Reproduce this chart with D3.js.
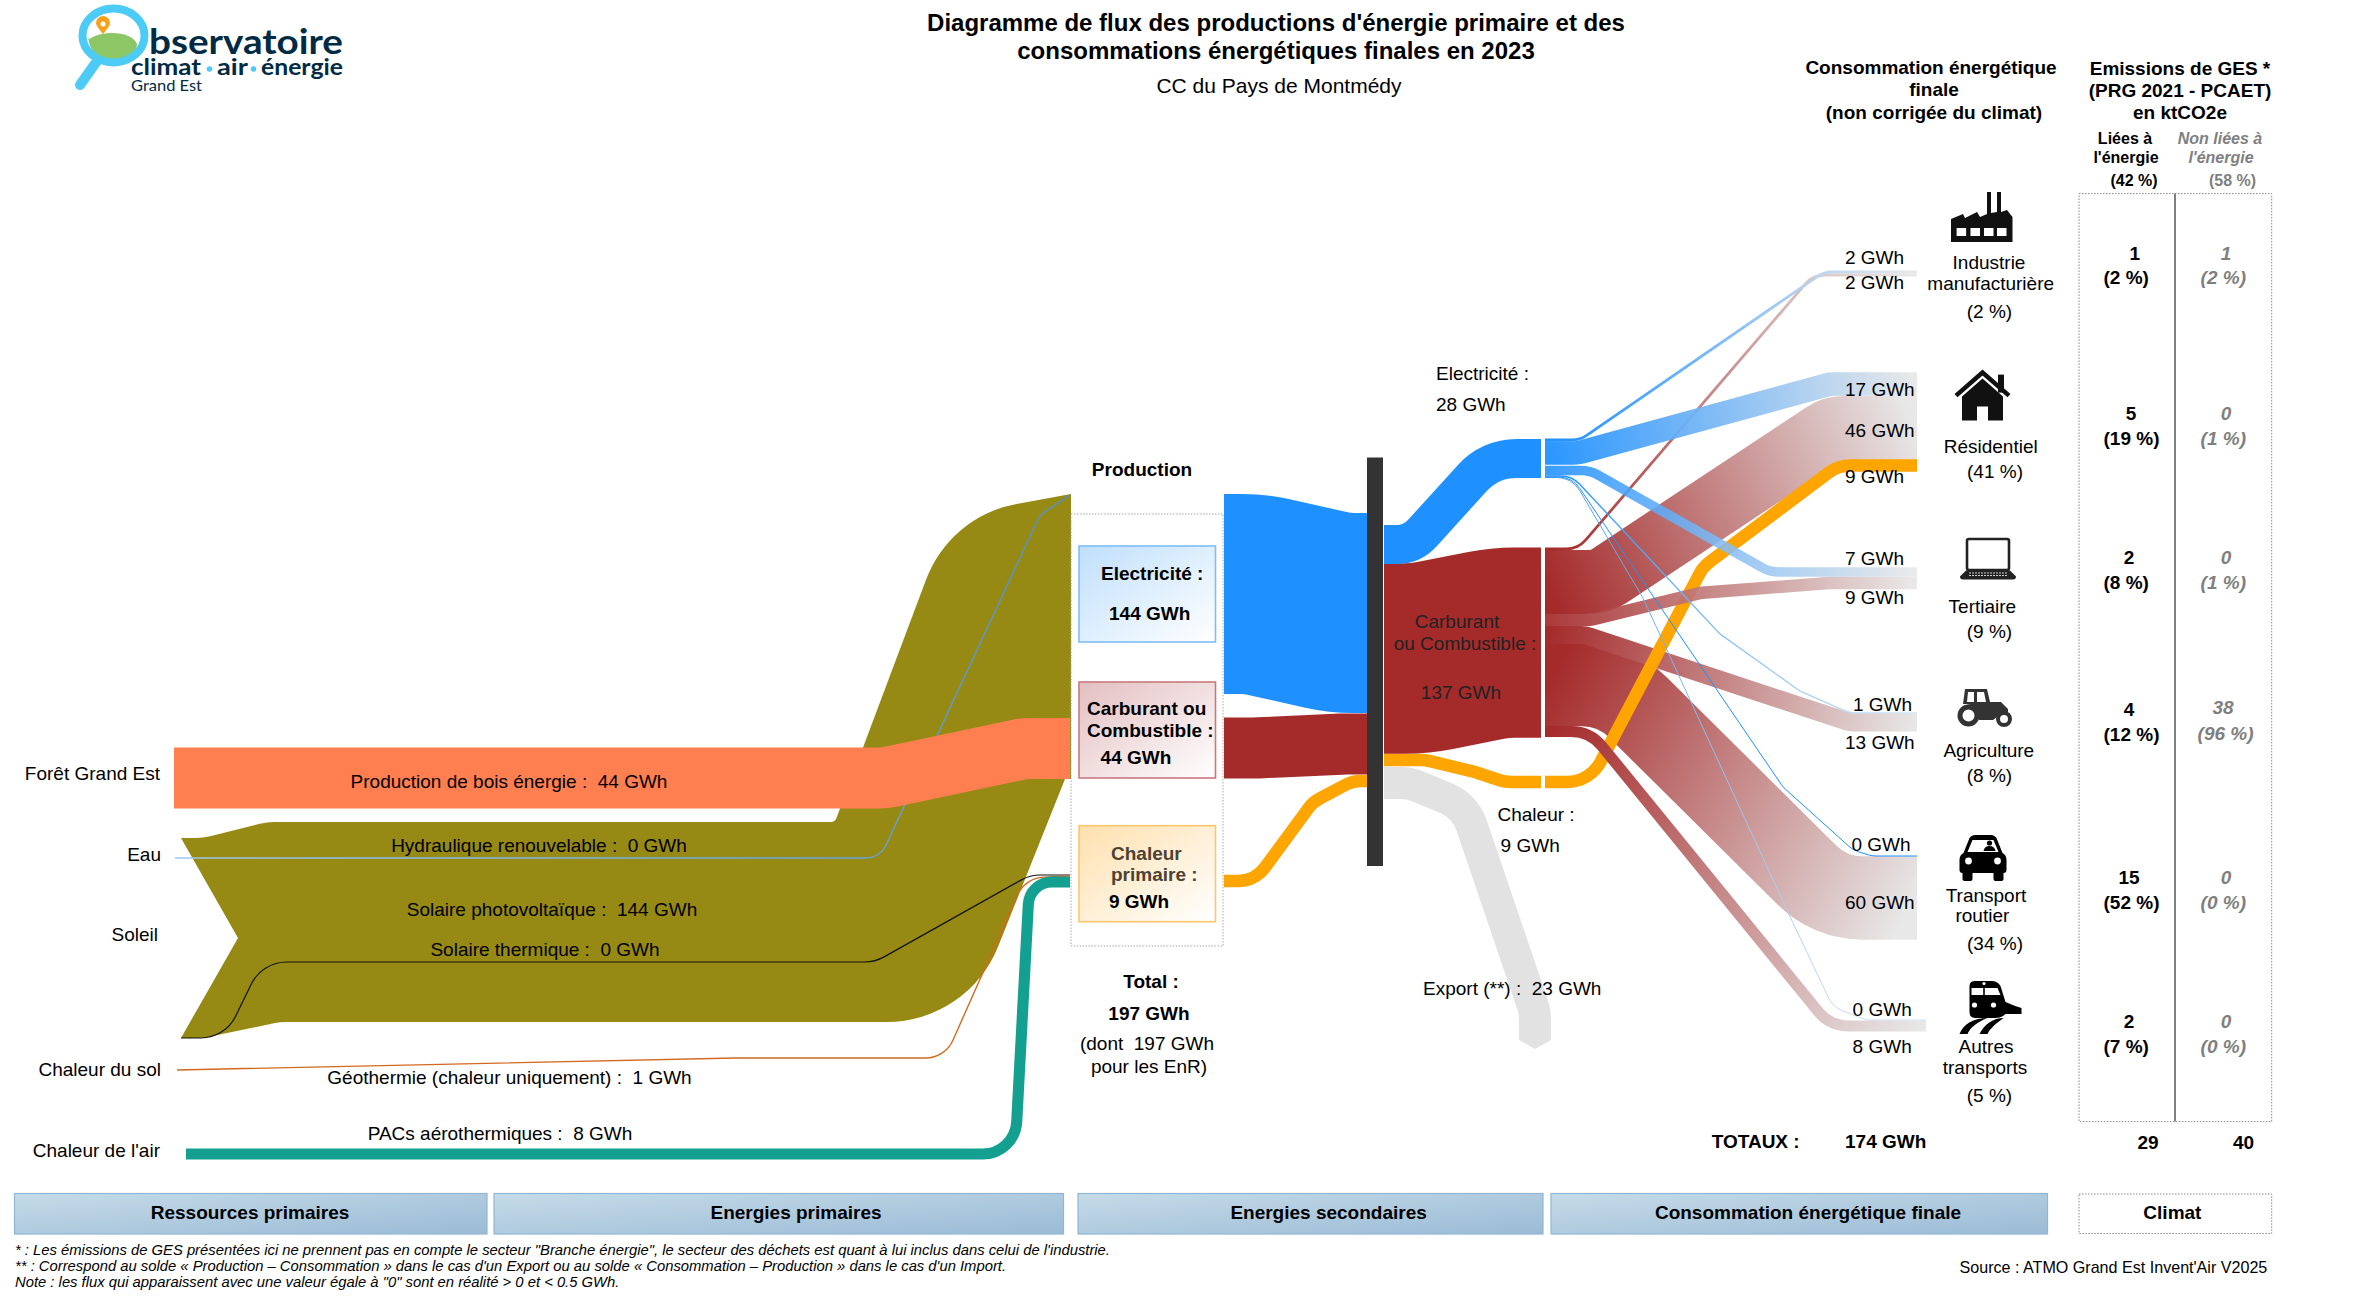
<!DOCTYPE html>
<html lang="fr"><head><meta charset="utf-8"><title>Diagramme de flux</title>
<script src="https://cdn.jsdelivr.net/npm/d3@7"></script>
<style>html,body{margin:0;padding:0;background:#fff}svg{display:block}text{font-family:"Liberation Sans",Arial,sans-serif;fill:#000}</style>
</head><body><svg id="c" width="2370" height="1299"></svg>
<script>
// ---------- DATA (GWh; labels "0" are small values > 0 and < 0.5) ----------
const resourceNames = ["Forêt Grand Est","Eau","Soleil","Chaleur du sol","Chaleur de l'air"];
const primaryFlowNames = ["Production de bois énergie","Hydraulique renouvelable","Solaire photovoltaïque","Solaire thermique","Géothermie (chaleur uniquement)","PACs aérothermiques"];
const primaryFlowValues = [44,0.3,144,0.3,1,8];
const productionNames = ["Electricité","Carburant ou Combustible","Chaleur primaire"];
const productionValues = [144,44,9];
const totalProduction = 197;
const carrierNames = ["Electricité","Carburant ou Combustible","Chaleur"];
const carrierValues = [28,137,9];
const exportValue = 23;
const sectorNames = ["Industrie manufacturière","Résidentiel","Tertiaire","Agriculture","Transport routier","Autres transports"];
const electricityBySector = [2,17,7,1,0.3,0.3];
const fuelBySector = [2,46,9,13,60,8];
const heatToResidential = 9;
const sectorShare = [2,41,9,8,34,5];
const ghgEnergy = [1,5,2,4,15,2];
const ghgEnergyShare = [2,19,8,12,52,7];
const ghgOther = [1,0,0,38,0,0];
const ghgOtherShare = [2,1,1,96,0,0];
const totalFinal = 174, totalGhgEnergy = 29, totalGhgOther = 40, shareEnergy = 42, shareOther = 58;

// ---------- SCALES / HELPERS ----------
const thick = d3.scaleLinear().domain([0,144]).range([0,200]);
const wid = v => Math.max(1, thick(v));
const num = d3.format(".0f");
const gwh = v => num(v) + " GWh";
const svg = d3.select("#c");
const defs = svg.append("defs");

function rounded(pts, r=30, closed=false){
  const p = d3.path(), n = pts.length;
  p.moveTo(pts[0][0], pts[0][1]);
  for(let i=1;i<n-1;i++){
    const [ax,ay]=pts[i-1],[bx,by,br]=pts[i],[cx,cy]=pts[i+1];
    let R = br===undefined ? r : br;
    const l1=Math.hypot(bx-ax,by-ay), l2=Math.hypot(cx-bx,cy-by);
    const a1=Math.atan2(by-ay,bx-ax), a2=Math.atan2(cy-by,cx-bx);
    let th=Math.abs(a2-a1); if(th>Math.PI) th=2*Math.PI-th;
    const t=Math.tan(th/2);
    if(t>1e-4 && R*t>Math.min(l1,l2)*0.55) R=Math.min(l1,l2)*0.55/t;
    if(R>0 && t>1e-4) p.arcTo(bx,by,cx,cy,R); else p.lineTo(bx,by);
  }
  p.lineTo(pts[n-1][0],pts[n-1][1]);
  if(closed) p.closePath();
  return p.toString();
}
let gid=0;
function fade(route, from, to){
  const id="g"+(gid++), a=route[0], b=route[route.length-1];
  const g=defs.append("linearGradient").attr("id",id).attr("gradientUnits","userSpaceOnUse")
    .attr("x1",a[0]).attr("y1",a[1]).attr("x2",b[0]).attr("y2",b[1]);
  g.append("stop").attr("offset",0).attr("stop-color",from);
  g.append("stop").attr("offset",1).attr("stop-color",to);
  return `url(#${id})`;
}
function diag(id,from,to){
  const g=defs.append("linearGradient").attr("id",id).attr("x1",0).attr("y1",0).attr("x2",1).attr("y2",1);
  g.append("stop").attr("offset",0).attr("stop-color",from);
  g.append("stop").attr("offset",1).attr("stop-color",to);
}
function band(route, value, color, r=30, opacity=1, minW=1){
  return svg.append("path").attr("d",rounded(route,r)).attr("fill","none").attr("stroke",color)
    .attr("stroke-width",Math.max(minW,thick(value))).attr("stroke-opacity",opacity).attr("stroke-linecap","butt");
}
function T(x,y,s,o={}){
  return svg.append("text").attr("x",x).attr("y",y).text(s).attr("xml:space","preserve")
    .attr("text-anchor",o.a||"start").attr("font-size",o.s||19).attr("font-weight",o.b?"bold":"normal")
    .attr("font-style",o.i?"italic":"normal").style("fill",o.c||"#000").style("white-space","pre");
}

// ---------- LAYOUT: flow routes (shapes only, widths come from the values) ----------
const BLUE="#1e90ff", RED="#a52a2a", ORANGE="#ffa500", FADE="#e8e8e8", OLIVE="#968a14", CORAL="#ff7f50", TEAL="#13a090", GREY="#e2e2e2";
const sectorRoutesElec = [
  [[1545,440],[1580,440],[1824,272],[1917,272]],
  [[1545,453],[1578,453],[1830,384],[1917,384]],
  [[1545,470.5],[1590,470.5],[1770,572],[1917,572]],
  [[1545,476],[1572,476],[1720,634],[1800,691],[1850,713],[1917,713]],
  [[1545,477],[1572,477],[1783,787],[1853,850],[1872,856],[1917,856]],
  [[1545,477.5],[1572,477.5],[1643,598],[1793,923],[1833,1007],[1866,1020],[1926,1020]]
];
const sectorRoutesFuel = [
  [[1545,549],[1578,549],[1813,275],[1917,275]],
  [[1545,582],[1600,582],[1833,428],[1917,428]],
  [[1545,620],[1590,620],[1700,593],[1830,583],[1917,583]],
  [[1545,635],[1585,635],[1850,722.5],[1917,722.5]],
  [[1545,684.6],[1615,684.6],[1830,898],[1917,898]],
  [[1545,731.5],[1590,731.5],[1830,1026],[1926,1026]]
];
const routeElecOut=[[1384,544.5],[1412,544.5],[1490,458.5],[1541,458.5]];
const routeFuelOut=[[1384,658.5],[1420,658.5],[1500,642.6],[1541,642.6]];
const routeHeatOut=[[1384,760],[1425,760],[1475,772],[1505,782],[1541,782]];
const routeHeatRes=[[1545,782],[1590,782],[1703,567],[1838,465.6],[1917,465.6]];
const routeExport=[[1384,783],[1410,783],[1465,806],[1535,1012],[1535,1040]];
const routeProdElec=[[1224,594],[1255,594],[1340,613],[1367,613]];
const routeProdFuel=[[1224,748],[1256,748],[1344,744],[1367,744]];
const routeProdHeat=[[1224,881],[1255,881],[1313,802],[1353,781],[1367,781]];
const routeWood=[[174,778],[885,778],[1024,748.5],[1070,748.5]];
const routeHydro=[[175,858],[880,858],[1040,515],[1070,495]];
const routeThermal=[[181,1038],[225,1038],[262,962],[875,962],[1030,875],[1070,875]];
const routeGeo=[[177,1070],[736,1058],[945,1058],[1025,878],[1070,876]];
const routePac=[[186,1154],[1015,1154],[1029.5,882],[1070,882]];

// ---------- PRIMARY RESOURCES ----------
const pvH=thick(primaryFlowValues[2]);
svg.append("path").attr("fill",OLIVE).attr("d",rounded([
  [181,838,0],[203,838,60],[267,822,60],[835,822,6],[950,516,170],[1071,494,0],[1071,494+pvH,0],[1071,779,0],[1065,779,0],
  [968,822+pvH,120],[280,822+pvH,60],[203,838+pvH,60],[181,838+pvH,0],[238,938,0],[181,838]
],0,true));
band(routeHydro,primaryFlowValues[1],fade(routeHydro,"#9cc8f0","#4a90d9"),22,1,1.3);
band(routeThermal,primaryFlowValues[3],"#111",40,1,1.2);
band(routeGeo,primaryFlowValues[4],"#d2691e",30);
band(routePac,primaryFlowValues[5],TEAL,34);
band(routeWood,primaryFlowValues[0],CORAL,60);

// primary panel
svg.append("rect").attr("x",1071).attr("y",514).attr("width",152).attr("height",432)
  .attr("fill","#fff").attr("stroke","#aaa").attr("stroke-dasharray","1.5 1.5");
[["bEl","#bfdffc","#7fbdf7",546],["bCa","#e3bfc1","#c77a7e",682],["bHe","#ffe0ae","#fcc76a",825.7]].forEach(([id,c,s,y])=>{
  diag(id,c,"#fff");
  svg.append("rect").attr("x",1079).attr("y",y).attr("width",136.5).attr("height",96)
    .attr("fill",`url(#${id})`).attr("stroke",s).attr("stroke-width",1.6);
});

// ---------- PRODUCTION -> BAR -> CARRIERS ----------
band(routeProdElec,productionValues[0],BLUE,120);
band(routeProdFuel,productionValues[1],RED,120);
band(routeProdHeat,productionValues[2],ORANGE,34);
band(routeExport,exportValue,GREY,45);
const [ex,ey]=routeExport[routeExport.length-1], eh=wid(exportValue)/2;
svg.append("path").attr("fill",GREY).attr("d",d3.line()([[ex-eh,ey-0.5],[ex+eh,ey-0.5],[ex+eh,ey],[ex,ey+9],[ex-eh,ey]])+"Z");
band(routeHeatOut,carrierValues[2],ORANGE,34);
band(routeFuelOut,carrierValues[1],RED,150);
band(routeElecOut,carrierValues[0],BLUE,60);
svg.append("rect").attr("x",1367).attr("y",457.5).attr("width",16).attr("height",408.5).attr("fill","#333");

// ---------- DISTRIBUTION TO SECTORS ----------
const fuelPaint=i=>fade(sectorRoutesFuel[i],RED,FADE), elecPaint=i=>fade(sectorRoutesElec[i],BLUE,FADE);
band(sectorRoutesFuel[1],fuelBySector[1],fuelPaint(1),36);
band(sectorRoutesFuel[4],fuelBySector[4],fuelPaint(4),80);
band(sectorRoutesFuel[3],fuelBySector[3],fuelPaint(3),26);
band(routeHeatRes,heatToResidential,ORANGE,38);
band(sectorRoutesFuel[2],fuelBySector[2],fuelPaint(2),30,0.93);
band(sectorRoutesFuel[5],fuelBySector[5],fuelPaint(5),40);
band(sectorRoutesFuel[0],fuelBySector[0],fuelPaint(0),26);
band(sectorRoutesElec[5],electricityBySector[5],fade(sectorRoutesElec[5],"#4d9fee","#cfe0f2"),26);
band(sectorRoutesElec[4],electricityBySector[4],BLUE,26);
band(sectorRoutesElec[3],electricityBySector[3],fade(sectorRoutesElec[3],BLUE,"#d5e3f0"),26);
band(sectorRoutesElec[2],electricityBySector[2],elecPaint(2),34,0.88);
band(sectorRoutesElec[1],electricityBySector[1],elecPaint(1),30,0.95);
band(sectorRoutesElec[0],electricityBySector[0],elecPaint(0),26);

// ---------- TEXT: titles ----------
T(1276,31,"Diagramme de flux des productions d'énergie primaire et des",{a:"middle",b:1,s:24});
T(1276,59,"consommations énergétiques finales en 2023",{a:"middle",b:1,s:24});
T(1279,93,"CC du Pays de Montmédy",{a:"middle",s:21});
T(1931,74,"Consommation énergétique",{a:"middle",b:1});
T(1934,96,"finale",{a:"middle",b:1});
T(1934,118.6,"(non corrigée du climat)",{a:"middle",b:1});
T(2180,75,"Emissions de GES *",{a:"middle",b:1});
T(2180,97,"(PRG 2021 - PCAET)",{a:"middle",b:1});
T(2180,118.6,"en ktCO2e",{a:"middle",b:1});
T(2125,143.6,"Liées à",{a:"middle",b:1,s:16});
T(2126,162.5,"l'énergie",{a:"middle",b:1,s:16});
T(2134,185.7,`(${shareEnergy} %)`,{a:"middle",b:1,s:16});
const G2="#7f7f7f";
T(2220,143.6,"Non liées à",{a:"middle",b:1,i:1,s:16,c:G2});
T(2221,162.5,"l'énergie",{a:"middle",b:1,i:1,s:16,c:G2});
T(2232.6,185.7,`(${shareOther} %)`,{a:"middle",b:1,s:16,c:G2});

// left labels
[[160,780],[161,860.5],[158,940.7],[161,1076.4],[160,1156.6]].forEach(([x,y],i)=>T(x,y,resourceNames[i],{a:"end"}));
[[509,788],[539,851.7],[552,916],[545,956],[509.5,1084],[500,1140]].forEach(([x,y],i)=>{
  T(x,y,`${primaryFlowNames[i]} :  ${gwh(primaryFlowValues[i])}`,{a:"middle"});
});

// production panel text
T(1142,476,"Production",{a:"middle",b:1});
T(1101,580,productionNames[0]+" :",{b:1});
T(1109,620,gwh(productionValues[0]),{b:1});
T(1087,714.7,"Carburant ou",{b:1});
T(1087,737,"Combustible :",{b:1});
T(1100.6,763.7,gwh(productionValues[1]),{b:1});
T(1111,860,"Chaleur",{b:1,c:"#4d4232"});
T(1111,881,"primaire :",{b:1,c:"#4d4232"});
T(1109,908,gwh(productionValues[2]),{b:1});
T(1151,988,"Total :",{a:"middle",b:1});
T(1149,1020,gwh(totalProduction),{a:"middle",b:1});
T(1147,1050,`(dont  ${gwh(totalProduction)}`,{a:"middle"});
T(1149,1073,"pour les EnR)",{a:"middle"});

// carriers
T(1436,380,carrierNames[0]+" :");
T(1436,411,gwh(carrierValues[0]));
T(1457,628,"Carburant",{a:"middle",c:"#222"});
T(1465,649.6,"ou Combustible :",{a:"middle",c:"#222"});
T(1461,699.4,gwh(carrierValues[1]),{a:"middle",c:"#222"});
T(1497.5,821,carrierNames[2]+" :");
T(1500.6,851.7,gwh(carrierValues[2]));
T(1423,995,`Export (**) :  ${gwh(exportValue)}`);

// sector flow labels
const elecLabel=[[1845,264],[1845,396],[1845,565],[1853,710.6],[1851.5,851.4],[1852.6,1015.5]];
const fuelLabel=[[1845,289],[1845,437],[1845,604],[1845,748.5],[1845,908.5],[1852.6,1052.5]];
sectorNames.forEach((_,i)=>{
  T(elecLabel[i][0],elecLabel[i][1],gwh(electricityBySector[i]));
  T(fuelLabel[i][0],fuelLabel[i][1],gwh(fuelBySector[i]));
});
T(1845,483,gwh(heatToResidential));
T(1711.7,1148,"TOTAUX :",{b:1});
T(1845,1148,gwh(totalFinal),{b:1});

// sector names
const sectorLines=[
 [[1989,268.6,"Industrie"],[1990.7,290,"manufacturière"],[1989.5,317.9]],
 [[1990.7,452.5,"Résidentiel"],[1995,477.5]],
 [[1982.4,613,"Tertiaire"],[1989.5,638]],
 [[1988.8,757,"Agriculture"],[1989.5,782]],
 [[1986,902,"Transport"],[1982.4,922,"routier"],[1995,950]],
 [[1986,1053,"Autres"],[1985,1074.4,"transports"],[1989.5,1101.6]]
];
sectorLines.forEach((lines,i)=>lines.forEach(l=>T(l[0],l[1],l[2]||`(${sectorShare[i]} %)`,{a:"middle"})));

// climate table
svg.append("rect").attr("x",2079).attr("y",193.6).attr("width",192.7).attr("height",928)
  .attr("fill","none").attr("stroke","#888").attr("stroke-dasharray","1.5 1.5");
svg.append("line").attr("x1",2175).attr("x2",2175).attr("y1",193.6).attr("y2",1121.6).attr("stroke","#808080").attr("stroke-width",2);
const rowY=[[259.5,284],[420,444.5],[563.5,588.5],[716,741],[884,908.5],[1028,1053]];
const valX=[2134.8,2131,2129,2129,2129,2129], otherX=[2226,2226,2226,2223,2226,2226];
sectorNames.forEach((_,i)=>{
  T(valX[i],rowY[i][0],num(ghgEnergy[i]),{a:"middle",b:1});
  T(2103.5,rowY[i][1],`(${ghgEnergyShare[i]} %)`,{b:1});
  T(otherX[i],rowY[i][0]-(i===3?2:0),num(ghgOther[i]),{a:"middle",b:1,i:1,c:G2});
  T(i===3?2197.6:2200.6,rowY[i][1]-(i===3?1:0),`(${ghgOtherShare[i]} %)`,{b:1,i:1,c:G2});
});
T(2148,1149,num(totalGhgEnergy),{a:"middle",b:1});
T(2243.5,1149,num(totalGhgOther),{a:"middle",b:1});

// bottom headers
diag("hdr","#c6dbe8","#9abbd6");
[[14.5,487,"Ressources primaires",250],[494,1063.5,"Energies primaires",796],[1078,1543,"Energies secondaires",1328.6],[1551,2047.5,"Consommation énergétique finale",1808]].forEach(([a,b,s,c])=>{
  svg.append("rect").attr("x",a).attr("y",1193.5).attr("width",b-a).attr("height",40.5)
    .attr("fill","url(#hdr)").attr("stroke","#8fb6d6").attr("stroke-width",1.2);
  T(c,1219,s,{a:"middle",b:1});
});
svg.append("rect").attr("x",2079).attr("y",1194).attr("width",192.7).attr("height",39.5)
  .attr("fill","#fff").attr("stroke","#888").attr("stroke-dasharray","1.5 1.5");
T(2172.4,1219,"Climat",{a:"middle",b:1});

// footnotes
T(15,1255,"* : Les émissions de GES présentées ici ne prennent pas en compte le secteur \"Branche énergie\", le secteur des déchets est quant à lui inclus dans celui de l'industrie.",{i:1,s:14.8});
T(15,1271,"** : Correspond au solde « Production – Consommation » dans le cas d'un Export ou au solde « Consommation – Production » dans le cas d'un Import.",{i:1,s:14.8});
T(15,1287,"Note : les flux qui apparaissent avec une valeur égale à \"0\" sont en réalité > 0 et < 0.5 GWh.",{i:1,s:14.8});
T(1959.5,1273,"Source : ATMO Grand Est Invent'Air V2025",{s:16.1});

// ---------- LOGO ----------
const logo=svg.append("g");
logo.append("path").attr("d","M88,40 C100,30 132,30 137,44 C136,58 120,62 109,60 C96,58 88,50 88,32 Z").attr("fill","#8cc665");
logo.append("ellipse").attr("cx",113.5).attr("cy",35.5).attr("rx",31).attr("ry",27).attr("fill","none").attr("stroke","#4ccbf7").attr("stroke-width",8);
logo.append("line").attr("x1",97).attr("y1",61).attr("x2",80).attr("y2",85).attr("stroke","#4ccbf7").attr("stroke-width",10).attr("stroke-linecap","round");
logo.append("path").attr("d","M103,34 C98,28 96,25 96,23 A7,7 0 1 1 110,23 C110,25 108,28 103,34Z").attr("fill","#f9a11b");
logo.append("circle").attr("cx",103).attr("cy",24).attr("r",2.5).attr("fill","#fff");
const navy="#012b45";
const LF=s=>s.style("font-family","Lato").attr("lengthAdjust","spacingAndGlyphs");
LF(T(149,53.5,"bservatoire",{b:1,s:34,c:navy})).attr("textLength",194);
LF(T(131,75,"climat",{b:1,s:22,c:navy})).attr("textLength",70);
LF(T(217,75,"air",{b:1,s:22,c:navy})).attr("textLength",31);
LF(T(261,75,"énergie",{b:1,s:22,c:navy})).attr("textLength",82);
[[209.5,69],[253.5,69]].forEach(([x,y])=>logo.append("circle").attr("cx",x).attr("cy",y).attr("r",2.8).attr("fill","#4ccbf7"));
LF(T(131,90.5,"Grand Est",{s:15,c:navy})).attr("textLength",71);

// ---------- SECTOR ICONS ----------
function icon(x,y){return svg.append("g").attr("transform",`translate(${x},${y})`);}
// factory
let g=icon(1951,192);
g.append("path").attr("d","M0,50 V27 L12,22 L14,26 L26,20 L29,25 L36,22 V0 H40 V21 L46,20 V0 H50 V20 L56,18 L61.5,25 V50 Z").attr("fill","#111");
[5.6,19.5,33,46].forEach(x=>g.append("rect").attr("x",x).attr("y",36).attr("width",9.5).attr("height",8).attr("fill","#fff"));
// house
g=icon(1954,368.6);
g.append("rect").attr("x",44).attr("y",6).attr("width",6).attr("height",18).attr("fill","#111");
g.append("path").attr("d","M2,27 L28.5,4 L55,27").attr("fill","none").attr("stroke","#111").attr("stroke-width",4.5);
g.append("path").attr("d","M8,52 V28 L28.5,10 L49,28 V52 H34 V38 H23 V52 Z").attr("fill","#111");
// laptop
g=icon(1960,537.5);
g.append("rect").attr("x",7).attr("y",1.5).attr("width",42).attr("height",31).attr("rx",2).attr("fill","#fff").attr("stroke","#222").attr("stroke-width",2.6);
g.append("path").attr("d","M6,33 H50 L56,39 Q56,42 53,42 H3 Q0,42 0,39 Z").attr("fill","#222");
[35.5,38].forEach(y=>g.append("line").attr("x1",9).attr("x2",47).attr("y1",y).attr("y2",y).attr("stroke","#ccc").attr("stroke-width",1).attr("stroke-dasharray","2 1"));
// tractor
g=icon(1957,688);
g.append("path").attr("d","M6,16 L8,1 H30 L33,14 H44 L51,21 V29 H40 L36,32 H22 C22,22 16,15 6,16 Z").attr("fill","#333");
g.append("path").attr("d","M11,4 H17 V14 H10 Z M20,4 H27 L29,14 H20 Z").attr("fill","#fff");
g.append("circle").attr("cx",11.5).attr("cy",27.5).attr("r",8.5).attr("fill","#fff").attr("stroke","#333").attr("stroke-width",5);
g.append("circle").attr("cx",47).attr("cy",31).attr("r",6).attr("fill","#fff").attr("stroke","#333").attr("stroke-width",4);
// car
g=icon(1959.5,835);
g.append("path").attr("d","M10,3 Q12,0 16,0 H31 Q35,0 37,3 L43,18 Q47,20 47,25 V35 Q47,38 44,38 V44 Q44,46 41,46 H36 Q34,46 34,44 V38 H13 V44 Q13,46 11,46 H6 Q3,46 3,44 V38 Q0,38 0,35 V25 Q0,20 4,18 Z").attr("fill","#000");
g.append("path").attr("d","M13,5 H34 L39,17 H8 Z").attr("fill","#fff");
g.append("circle").attr("cx",30).attr("cy",8).attr("r",2.6).attr("fill","#000");
g.append("path").attr("d","M24,16 Q25,11 30,11 Q35,11 36,16 Z").attr("fill","#000");
[9,38].forEach(x=>g.append("circle").attr("cx",x).attr("cy",26).attr("r",3.4).attr("fill","#fff"));
// train
g=icon(1959.5,980);
g.append("path").attr("d","M10,6 Q10,1 16,1 H32 Q38,1 41,6 L46,22 Q55,26 62,28 V34 H46 Q42,38 36,38 H16 Q10,38 10,32 Z").attr("fill","#000");
g.append("path").attr("d","M12,8 H38 L41,15 H12 Z").attr("fill","#fff");
g.append("line").attr("x1",24.5).attr("x2",24.5).attr("y1",7).attr("y2",16).attr("stroke","#000").attr("stroke-width",1.6);
[15,34].forEach(x=>g.append("circle").attr("cx",x).attr("cy",25).attr("r",2.6).attr("fill","#fff"));
g.append("circle").attr("cx",24.5).attr("cy",3.5).attr("r",1.6).attr("fill","#fff");
g.append("path").attr("d","M0,54 C4,44 14,38 28,38 C18,42 11,47 8,54 Z M20,54 C25,44 34,38 44,38 C36,44 31,48 28,54 Z").attr("fill","#000");
</script></body></html>
